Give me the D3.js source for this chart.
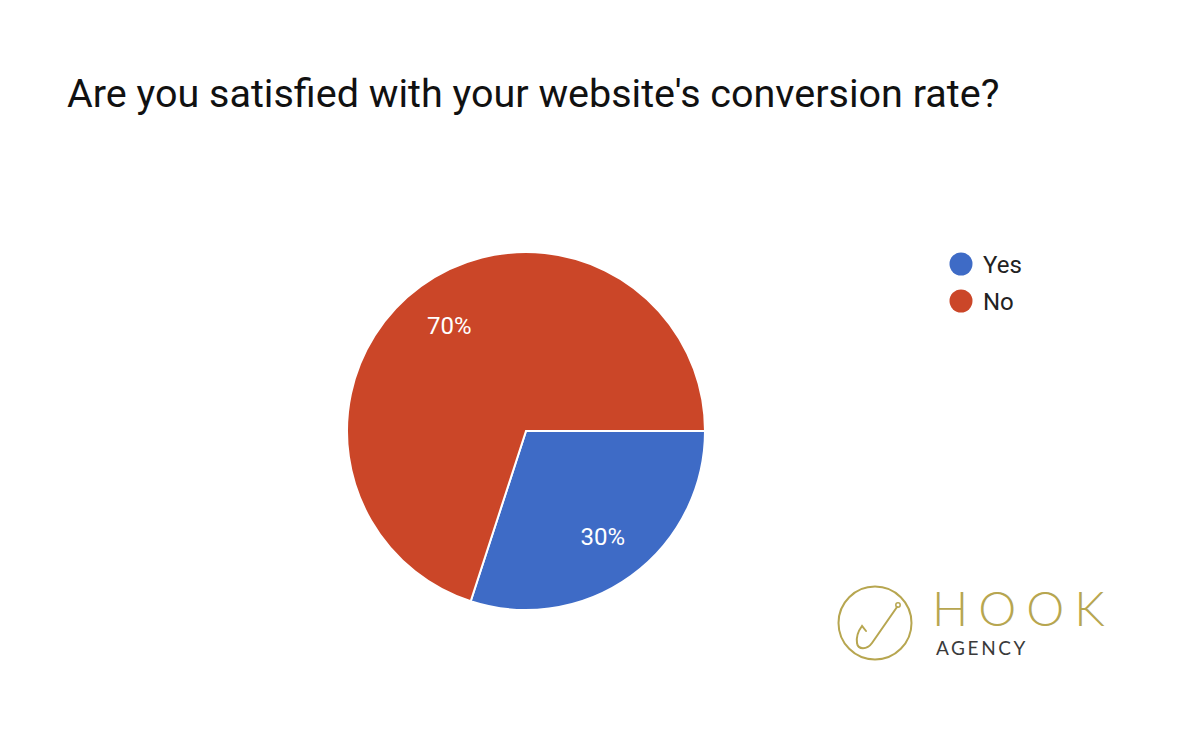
<!DOCTYPE html>
<html>
<head>
<meta charset="utf-8">
<script src="https://cdn.jsdelivr.net/npm/d3@7"></script>
<style>
  body { margin: 0; background: #fff; }
  svg { display: block; }
</style>
</head>
<body>
<div id="chart"></div>
<script>
// data
const categories = ["Yes", "No"];
const values = [30, 70];
const colors = ["#3e6bc6", "#cb4628"];
const title = "Are you satisfied with your website's conversion rate?";

const width = 1184, height = 732;
const cx = 526, cy = 431, radius = 179;

const svg = d3.select("#chart")
  .append("svg")
  .attr("width", width)
  .attr("height", height);

svg.append("text")
  .attr("x", 67)
  .attr("y", 107)
  .attr("font-family", "Roboto, sans-serif")
  .attr("font-size", 39.5)
  .attr("fill", "#111")
  .text(title);

const data = categories.map((c, i) => ({ name: c, value: values[i] }));

// pie starts at 3 o'clock, clockwise
const pie = d3.pie()
  .value(d => d.value)
  .sort(null)
  .startAngle(Math.PI / 2)
  .endAngle(Math.PI / 2 + 2 * Math.PI);

const arc = d3.arc().innerRadius(0).outerRadius(radius);
const labelArc = d3.arc().innerRadius(radius * 0.73).outerRadius(radius * 0.73);
const color = d3.scaleOrdinal().domain(categories).range(colors);

const g = svg.append("g").attr("transform", `translate(${cx},${cy})`);
const arcs = pie(data);

g.selectAll("path")
  .data(arcs)
  .join("path")
  .attr("d", arc)
  .attr("fill", d => color(d.data.name))
  .attr("stroke", "#fff")
  .attr("stroke-width", 2);

const total = d3.sum(values);
g.selectAll("text")
  .data(arcs)
  .join("text")
  .attr("transform", d => `translate(${labelArc.centroid(d)})`)
  .attr("text-anchor", "middle")
  .attr("dy", "0.36em")
  .attr("font-family", "Roboto, sans-serif")
  .attr("font-size", 24)
  .attr("fill", "#fff")
  .text(d => Math.round(d.data.value / total * 100) + "%");

// legend
const legend = svg.append("g").attr("transform", "translate(961,264)");
const item = legend.selectAll("g")
  .data(categories)
  .join("g")
  .attr("transform", (d, i) => `translate(0,${i * 37})`);
item.append("circle")
  .attr("r", 11.5)
  .attr("fill", d => color(d));
item.append("text")
  .attr("x", 22)
  .attr("dy", "0.36em")
  .attr("font-family", "Roboto, sans-serif")
  .attr("font-size", 24)
  .attr("fill", "#222")
  .text(d => d);

// logo
const gold = "#b7a650";
const logo = svg.append("g");
logo.append("circle")
  .attr("cx", 875).attr("cy", 623).attr("r", 36.5)
  .attr("fill", "none").attr("stroke", gold).attr("stroke-width", 2);
logo.append("path")
  .attr("d", "M897,607 L872,643 C867,650 858,650 857,643 C856,636 859,630 862,626 L866,631")
  .attr("fill", "none").attr("stroke", gold).attr("stroke-width", 2).attr("stroke-linecap", "round");
logo.append("circle")
  .attr("cx", 898).attr("cy", 605).attr("r", 2.2)
  .attr("fill", "none").attr("stroke", gold).attr("stroke-width", 1.5);
logo.append("text")
  .attr("x", 932).attr("y", 626)
  .attr("font-family", "Lato, sans-serif")
  .attr("font-weight", 300)
  .attr("font-size", 48)
  .attr("letter-spacing", 10)
  .attr("fill", gold)
  .text("HOOK");
logo.append("text")
  .attr("x", 936).attr("y", 655)
  .attr("font-family", "Lato, sans-serif")
  .attr("font-size", 19)
  .attr("letter-spacing", 2.6)
  .attr("fill", "#3a3a3a")
  .text("AGENCY");
</script>
</body>
</html>
